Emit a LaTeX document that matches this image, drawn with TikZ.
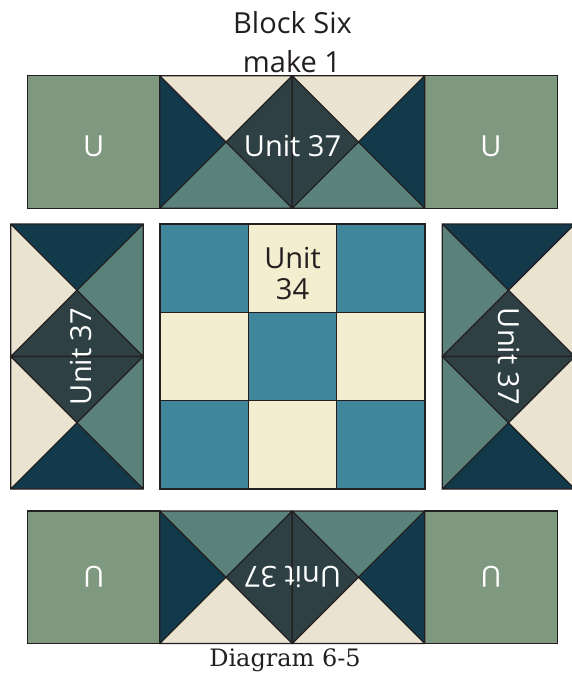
\documentclass[tikz,border=0pt]{standalone}
\usepackage{fontspec}
\setmainfont{Open Sans}
\newfontfamily\serifcap{DejaVu Serif}
\definecolor{sage}{HTML}{7F9880}
\definecolor{navy}{HTML}{133A4A}
\definecolor{creamA}{HTML}{E9E3D0}
\definecolor{tealA}{HTML}{5A827B}
\definecolor{darkA}{HTML}{2E4043}
\definecolor{blueA}{HTML}{40869A}
\definecolor{creamB}{HTML}{F3EED0}
\definecolor{ink}{HTML}{231F20}
\tikzset{
  patch/.style={draw=ink,line width=1.1pt,line join=miter},
  whitelabel/.style={text=white,font=\fontsize{29}{29}\selectfont,inner sep=0pt},
  inklabel/.style={text=ink,font=\fontsize{29}{29}\selectfont,inner sep=0pt,align=center},
}
% centre x, centre y, top, right, bottom, left
\newcommand{\hsq}[6]{%
  \begin{scope}[shift={(#1,#2)}]
    \fill[#3] (-66.25,-66.25) -- (66.25,-66.25) -- (0,0) -- cycle;
    \fill[#4] (66.25,-66.25) -- (66.25,66.25) -- (0,0) -- cycle;
    \fill[#5] (66.25,66.25) -- (-66.25,66.25) -- (0,0) -- cycle;
    \fill[#6] (-66.25,66.25) -- (-66.25,-66.25) -- (0,0) -- cycle;
    \draw[patch] (-66.25,-66.25) rectangle (66.25,66.25)
      (-66.25,-66.25) -- (66.25,66.25) (66.25,-66.25) -- (-66.25,66.25);
  \end{scope}}
\newcommand{\plain}[3]{%
  \draw[patch,fill=#3] (#1-66.25,#2-66.25) rectangle (#1+66.25,#2+66.25);}
\newcommand{\ninth}[3]{%
  \draw[patch,fill=#3] (#1-44.17,#2-44.17) rectangle (#1+44.17,#2+44.17);}
\begin{document}
\begin{tikzpicture}[x=1pt,y=-1pt]
\path[use as bounding box,clip] (0,0) rectangle (572,673);
% top row
\plain{93.75}{142}{sage}
\plain{491}{142}{sage}
\hsq{226}{142}{creamA}{darkA}{tealA}{navy}
\hsq{358.5}{142}{creamA}{navy}{tealA}{darkA}
% bottom row
\plain{93.75}{577.25}{sage}
\plain{491}{577.25}{sage}
\hsq{226}{577.25}{tealA}{darkA}{creamA}{navy}
\hsq{358.5}{577.25}{tealA}{navy}{creamA}{darkA}
% left column
\hsq{77}{290.25}{navy}{tealA}{darkA}{creamA}
\hsq{77}{422.75}{darkA}{tealA}{navy}{creamA}
% right column
\hsq{508.5}{290.25}{navy}{creamA}{darkA}{tealA}
\hsq{508.5}{422.75}{darkA}{creamA}{navy}{tealA}
% centre nine patch
\ninth{204.17}{268.17}{blueA}
\ninth{292.5}{268.17}{creamB}
\ninth{380.83}{268.17}{blueA}
\ninth{204.17}{356.5}{creamB}
\ninth{292.5}{356.5}{blueA}
\ninth{380.83}{356.5}{creamB}
\ninth{204.17}{444.83}{blueA}
\ninth{292.5}{444.83}{creamB}
\ninth{380.83}{444.83}{blueA}
% labels
\node[inklabel,anchor=base] (title1) at (292.5,33) {Block Six};
\node[inklabel,anchor=base] (title2) at (292,72) {make 1};
\node[whitelabel,anchor=base] (u1) at (93.75,156) {U};
\node[whitelabel,anchor=base] (u2) at (491,156) {U};
\node[whitelabel,anchor=base,rotate=180] (u3) at (93.75,566.5) {U};
\node[whitelabel,anchor=base,rotate=180] (u4) at (491,566.5) {U};
\node[whitelabel,anchor=base] (t) at (292.5,156) {Unit 37};
\node[whitelabel,anchor=base,rotate=180] (b) at (292.5,566.5) {Unit 37};
\node[whitelabel,anchor=base,rotate=90] (l) at (91,356.5) {Unit 37};
\node[whitelabel,anchor=base,rotate=-90] (r) at (498.5,356.5) {Unit 37};
\node[inklabel,anchor=base] (c1) at (292.5,268) {Unit};
\node[inklabel,anchor=base] (c2) at (292.5,299.5) {34};
\node[text=ink,inner sep=0pt,anchor=base,font=\serifcap\fontsize{24}{24}\selectfont] (cap) at (285,666.5) {Diagram 6-5};
\end{tikzpicture}
\end{document}
